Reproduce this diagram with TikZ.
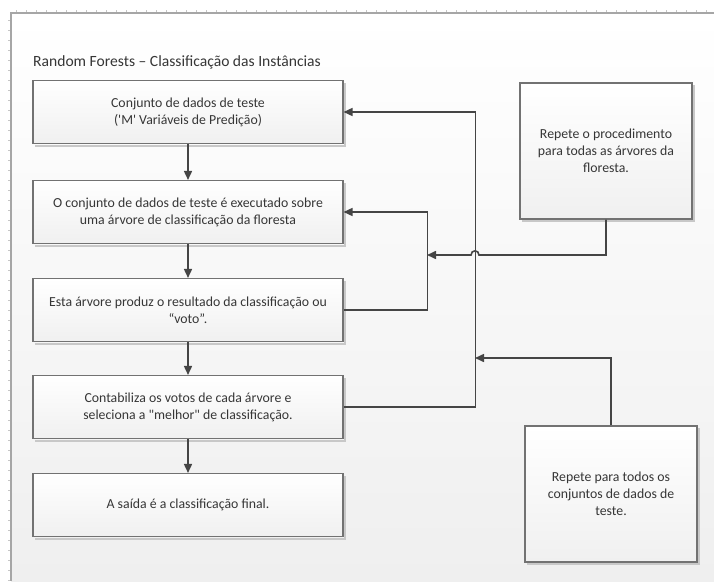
\documentclass[tikz,border=0pt]{standalone}
\usepackage{fontspec}
\setmainfont{Carlito}[Ligatures=TeXOff]
\usetikzlibrary{arrows.meta}

\definecolor{boxline}{HTML}{727272}
\definecolor{wire}{HTML}{454545}
\definecolor{ink}{HTML}{363636}
\definecolor{boxlow}{HTML}{F0F0F0}
\definecolor{pagelow}{HTML}{EFEFEF}
\definecolor{shade}{HTML}{C8C8C8}

\tikzset{
  shadowbox/.style={draw=shade, line width=2pt},
  stepbox/.style={draw=boxline, line width=1.1pt, top color=white, bottom color=boxlow,
    minimum width=310pt, minimum height=63pt, align=center, text=ink,
    font=\fontsize{13.8}{17}\selectfont, inner sep=0pt},
  notebox/.style={stepbox, minimum width=172pt, minimum height=136pt},
  conn/.style={draw=wire, line width=1.6pt, -{Triangle[length=9pt,width=8pt]}},
}

\begin{document}
\begin{tikzpicture}[x=1pt,y=-1pt]
  \useasboundingbox (0,0) rectangle (714,581);
  % page background with ruler frame
  \shade[top color=white, bottom color=pagelow] (11,13) rectangle (714,581);
  \foreach \t in {16,26,...,714} \draw[gray!45, line width=0.4pt] (\t,10) -- (\t,13);
  \foreach \t in {20,30,...,581} \draw[gray!45, line width=0.4pt] (8,\t) -- (11,\t);
  \draw[gray!70, line width=1.2pt] (714,13) -- (11,13) -- (11,581);

  % title
  \node[anchor=west, text=ink, font=\fontsize{15.6}{18}\selectfont, inner sep=0pt] (title) at (33,62)
    {Random Forests – Classificação das Instâncias};

  % main flow
  \node[stepbox] (b1) at (188,112) {Conjunto de dados de teste\\('M' Variáveis de Predição)};
  \node[stepbox] (b2) at (188,212) {O conjunto de dados de teste é executado sobre\\uma árvore de classificação da floresta};
  \node[stepbox] (b3) at (188,310) {Esta árvore produz o resultado da classificação ou\\“voto”.};
  \node[stepbox] (b4) at (188,407) {Contabiliza os votos de cada árvore e\\seleciona a "melhor" de classificação.};
  \node[stepbox] (b5) at (188,505) {A saída é a classificação final.};

  % side notes
  \node[notebox] (r1) at (606,151) {Repete o procedimento\\para todas as árvores da\\floresta.};
  \node[notebox] (r2) at (611,494) {Repete para todos os\\conjuntos de dados de\\teste.};

  % thin shadow along the lower and right edges
  \foreach \n in {b1,b2,b3,b4,b5,r1,r2}
    \draw[shadowbox] ([shift={(3,1.6)}]\n.south west) -- ([shift={(1.6,1.6)}]\n.south east)
                     -- ([shift={(1.6,3)}]\n.north east);

  \foreach \a/\b in {b1/b2, b2/b3, b3/b4, b4/b5}
    \draw[conn] (\a.south) -- (\b.north);

  % inner loop: next tree
  \draw[conn] (b3.east) -- ++(84,0) |- (b2.east);
  % outer loop: next data set
  \draw[conn] (b4.east) -- ++(132,0) |- (b1.east);

  \coordinate (j1) at (427,255);
  \coordinate (j2) at (475,358);

  \draw[conn] (r1.south) |- (479,255) .. controls (479,249.5) and (471,249.5) .. (471,255) -- (j1);
  \draw[conn] (r2.north) |- (j2);
\end{tikzpicture}
\end{document}
